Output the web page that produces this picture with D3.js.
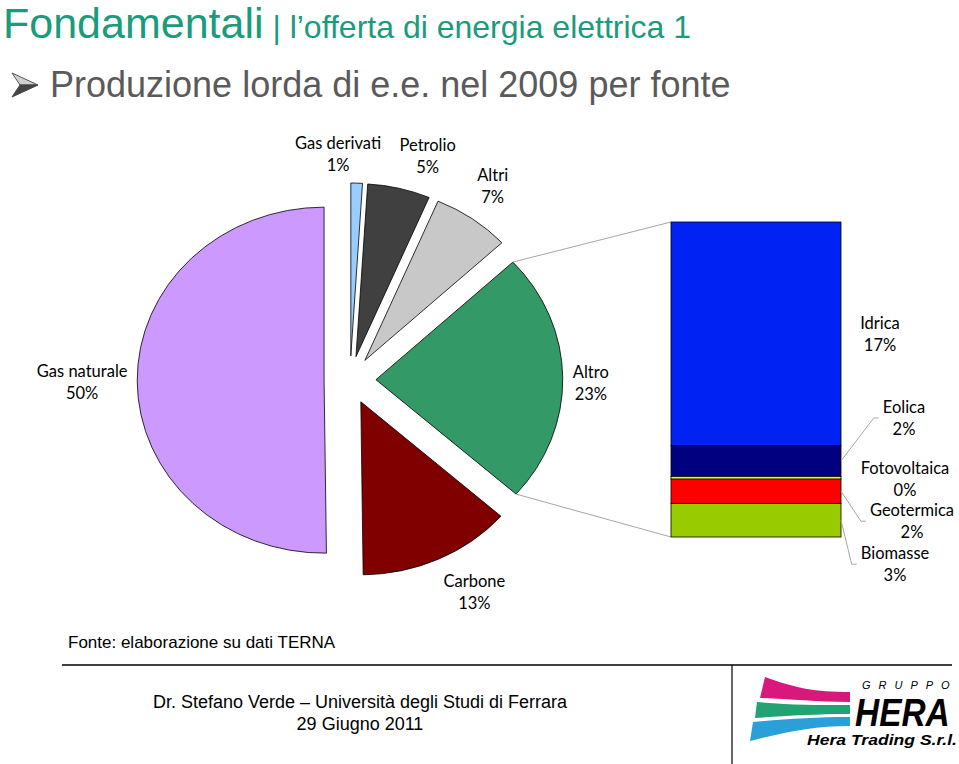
<!DOCTYPE html>
<html>
<head>
<meta charset="utf-8">
<script src="https://cdn.jsdelivr.net/npm/d3@7"></script>
<style>
  body { margin: 0; background: #fff; }
  svg { display: block; }
</style>
</head>
<body>
<div id="chart"></div>
<script>
// pie: main sources (percent of gross production, 2009)
const pieNames = ['Gas derivati', 'Petrolio', 'Altri', 'Altro', 'Carbone', 'Gas naturale']
const pieColors = ['#99ccff', '#404040', '#c8c8c8', '#339966', '#800000', '#cc99ff']
// bar: breakdown of "Altro"
const barNames = ['Idrica', 'Eolica', 'Fotovoltaica', 'Geotermica', 'Biomasse']
const barValues = [16.6, 2.3, 0.2, 1.8, 2.5]
const barColors = ['#0022f2', '#000080', '#ffff00', '#ff0000', '#99cc00']
const pieValues = [1.0, 5.4, 6.7, d3.sum(barValues), 13.3, 50.2]

const width = 959, height = 764
const svg = d3.select('#chart').append('svg')
  .attr('width', width)
  .attr('height', height)

const labelFont = 'Lato, "Open Sans", sans-serif'
const headFont = '"Liberation Sans", Arial, sans-serif'

// ---- header
svg.append('text')
  .attr('x', 3).attr('y', 38)
  .attr('font-family', headFont)
  .attr('fill', '#1a9b7b')
  .call(t => {
    t.append('tspan').attr('font-size', 43).text('Fondamentali')
    t.append('tspan').attr('font-size', 32).text(' | l’offerta di energia elettrica 1')
  })

// arrow bullet
svg.append('path')
  .attr('d', 'M12,73 L38,85 L20,85 Z')
  .attr('fill', '#d0d0d0').attr('stroke', '#555').attr('stroke-width', 1)
svg.append('path')
  .attr('d', 'M12,97 L38,85 L20,85 Z')
  .attr('fill', '#444').attr('stroke', '#444').attr('stroke-width', 1)

svg.append('text')
  .attr('x', 50).attr('y', 97)
  .attr('font-family', headFont)
  .attr('font-size', 36)
  .attr('fill', '#5a5a5a')
  .text('Produzione lorda di e.e. nel 2009 per fonte')

// ---- pie
const cx = 350, cy = 380, radius = 173, stretchX = 1.08, explode = 24
const pie = d3.pie().sort(null).value(d => d)
const arcs = pie(pieValues)
const arc = d3.arc().innerRadius(0).outerRadius(radius)

const mid = d => (d.startAngle + d.endAngle) / 2
const offset = d => [explode * Math.sin(mid(d)), -explode * Math.cos(mid(d))]
// point on the outer edge of a slice, in page coords
const edgePoint = (d, a) => {
  const [ox, oy] = offset(d)
  return [cx + stretchX * (ox + radius * Math.sin(a)), cy + oy - radius * Math.cos(a)]
}

const pieG = svg.append('g')
  .attr('transform', `translate(${cx},${cy}) scale(${stretchX},1)`)

pieG.selectAll('path')
  .data(arcs)
  .join('path')
  .attr('transform', d => `translate(${offset(d)})`)
  .attr('d', arc)
  .attr('fill', (d, i) => pieColors[i])
  .attr('stroke', '#000')
  .attr('stroke-width', 0.8)
  .attr('vector-effect', 'non-scaling-stroke')

// label placement around the pie: angle nudge (deg) and distance from centre
const pieLabelPos = {
  'Gas derivati': [-4.6, 226],
  'Petrolio': [4.5, 235],
  'Altri': [-0.9, 235],
  'Altro': [1.5, 223],
  'Carbone': [-3.9, 241],
  'Gas naturale': [0, 248]
}
const pieLabels = svg.append('g')
  .attr('font-family', labelFont)
  .attr('font-size', 16.5)
  .attr('fill', '#000')
  .attr('text-anchor', 'middle')
arcs.forEach((d, i) => {
  const [da, r] = pieLabelPos[pieNames[i]]
  const a = mid(d) + da * Math.PI / 180
  const x = cx + stretchX * r * Math.sin(a)
  const y = cy - r * Math.cos(a)
  const t = pieLabels.append('text').attr('x', x).attr('y', y)
  t.append('tspan').attr('x', x).attr('dy', -5).text(pieNames[i])
  t.append('tspan').attr('x', x).attr('dy', 22).text(Math.round(d.data) + '%')
})

// ---- bar of "Altro"
const barX = 671, barW = 170
const yScale = d3.scaleLinear()
  .domain([0, d3.sum(barValues)])
  .range([537, 222])

// stack from the bottom (Biomasse) up to Idrica
const segs = []
let acc = 0
for (let i = barValues.length - 1; i >= 0; i--) {
  segs[i] = {name: barNames[i], value: barValues[i], color: barColors[i], y0: acc, y1: acc + barValues[i]}
  acc += barValues[i]
}

// connector lines from the "Altro" slice to the bar
const altro = arcs[3]
const pTop = edgePoint(altro, altro.startAngle)
const pBot = edgePoint(altro, altro.endAngle)
svg.append('g')
  .attr('stroke', '#a6a6a6')
  .attr('stroke-width', 1)
  .selectAll('line')
  .data([[pTop, [barX, yScale(acc)]], [pBot, [barX, yScale(0)]]])
  .join('line')
  .attr('x1', d => d[0][0]).attr('y1', d => d[0][1])
  .attr('x2', d => d[1][0]).attr('y2', d => d[1][1])

svg.append('g')
  .selectAll('rect')
  .data(segs)
  .join('rect')
  .attr('x', barX)
  .attr('width', barW)
  .attr('y', d => yScale(d.y1))
  .attr('height', d => yScale(d.y0) - yScale(d.y1))
  .attr('fill', d => d.color)
  .attr('stroke', '#000')
  .attr('stroke-width', 0.8)

// bar labels: x offset from bar edge, y offset from segment centre, leader line?
const barLabelPos = {
  'Idrica': [39, 0, false],
  'Eolica': [63, -43, true],
  'Fotovoltaica': [64, 1.5, false],
  'Geotermica': [71, 30, true],
  'Biomasse': [54, 44, true]
}
const barLabels = svg.append('g')
  .attr('font-family', labelFont)
  .attr('font-size', 16.5)
  .attr('fill', '#000')
  .attr('text-anchor', 'middle')
segs.forEach(s => {
  const [dx, dy, leader] = barLabelPos[s.name]
  const segMid = (yScale(s.y0) + yScale(s.y1)) / 2
  const x = barX + barW + dx
  const y = segMid + dy
  const t = barLabels.append('text').attr('x', x).attr('y', y)
  const first = t.append('tspan').attr('x', x).attr('dy', -5).text(s.name)
  t.append('tspan').attr('x', x).attr('dy', 22).text(Math.round(s.value) + '%')
  if (leader) {
    const w = first.node().getComputedTextLength()
    const ex = x - w / 2 - 4
    svg.append('polyline')
      .attr('points', [[barX + barW, segMid], [ex - 5, y], [ex, y]].join(' '))
      .attr('fill', 'none')
      .attr('stroke', '#a6a6a6')
      .attr('stroke-width', 1)
  }
})

// ---- footer
svg.append('text')
  .attr('x', 68).attr('y', 648)
  .attr('font-family', headFont)
  .attr('font-size', 17)
  .attr('fill', '#000')
  .text('Fonte: elaborazione su dati TERNA')

svg.append('line')
  .attr('x1', 62).attr('x2', 952).attr('y1', 665).attr('y2', 665)
  .attr('stroke', '#000').attr('stroke-width', 1.5)
svg.append('line')
  .attr('x1', 732).attr('x2', 732).attr('y1', 665).attr('y2', 764)
  .attr('stroke', '#000').attr('stroke-width', 1.2)

svg.append('text')
  .attr('x', 360).attr('y', 708)
  .attr('text-anchor', 'middle')
  .attr('font-family', headFont)
  .attr('font-size', 18)
  .text('Dr. Stefano Verde – Università degli Studi di Ferrara')
svg.append('text')
  .attr('x', 360).attr('y', 730)
  .attr('text-anchor', 'middle')
  .attr('font-family', headFont)
  .attr('font-size', 18)
  .text('29 Giugno 2011')

// ---- logo
const logo = svg.append('g')
logo.append('path')
  .attr('d', 'M765,677 C795,688 815,692 850,692 L850,702 C815,702 790,699 760,698 Z')
  .attr('fill', '#d8197b')
logo.append('path')
  .attr('d', 'M757,702 C790,705 815,705 850,705 L850,714 C815,714 785,716 755,718 Z')
  .attr('fill', '#23a374')
logo.append('path')
  .attr('d', 'M753,722 C785,719 815,717 850,717 L850,726 C815,726 785,732 750,741 Z')
  .attr('fill', '#2a9fd8')
logo.append('text')
  .attr('x', 862).attr('y', 689)
  .attr('font-family', headFont)
  .attr('font-style', 'italic')
  .attr('font-size', 11)
  .attr('letter-spacing', 8)
  .text('GRUPPO')
// HERA: tall, slightly condensed
logo.append('text')
  .attr('transform', 'translate(855,726) scale(0.88,1)')
  .attr('font-family', headFont)
  .attr('font-style', 'italic')
  .attr('font-weight', 'bold')
  .attr('font-size', 38)
  .text('HERA')
logo.append('text')
  .attr('x', 807).attr('y', 745)
  .attr('font-family', headFont)
  .attr('font-style', 'italic')
  .attr('font-weight', 'bold')
  .attr('font-size', 14.5)
  .attr('textLength', 150)
  .attr('lengthAdjust', 'spacingAndGlyphs')
  .text('Hera Trading S.r.l.')
</script>
</body>
</html>
